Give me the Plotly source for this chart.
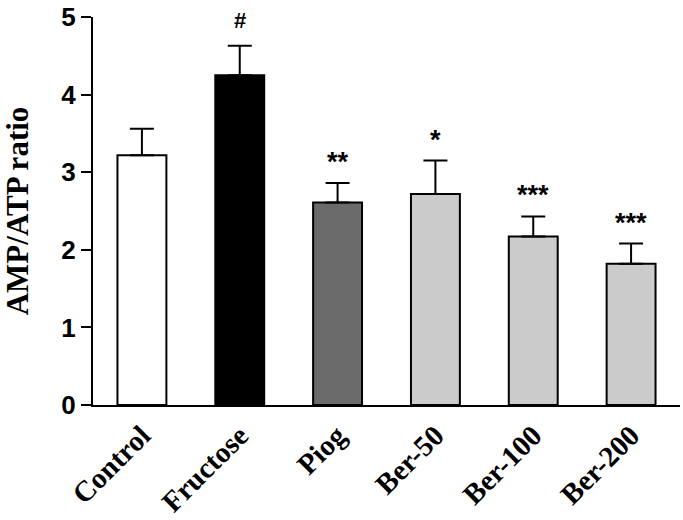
import plotly.graph_objects as go

categories = ["Control", "Fructose", "Piog", "Ber-50", "Ber-100", "Ber-200"]
values = [3.22, 4.25, 2.61, 2.72, 2.17, 1.82]
errors = [0.34, 0.38, 0.25, 0.43, 0.26, 0.26]
colors = ["#ffffff", "#000000", "#6b6b6b", "#cbcbcb", "#cbcbcb", "#cbcbcb"]
marks = ["", "#", "**", "*", "***", "***"]

fig = go.Figure()
fig.add_trace(go.Bar(
    x=categories, y=values,
    marker=dict(color=colors, line=dict(color="#000000", width=2)),
    width=0.5,
    error_y=dict(type="data", array=errors, arrayminus=[0]*len(errors),
                 symmetric=False, color="#000000", thickness=2, width=12),
))

for c, v, e, m in zip(categories, values, errors, marks):
    if m:
        fig.add_annotation(x=c, y=v + e, text=m, showarrow=False,
                           yanchor="bottom", yshift=11 if m == "#" else 4,
                           font=dict(family="Liberation Sans", size=27 if m != "#" else 22,
                                     color="#000", weight="bold"))

fig.update_layout(
    width=683, height=520,
    margin=dict(l=93, r=3, t=17, b=115),
    plot_bgcolor="white", paper_bgcolor="white",
    showlegend=False,
    bargap=0.5,
    xaxis=dict(
        showline=True, linecolor="black", linewidth=2,
        ticks="", tickangle=-45, automargin=False,
        tickfont=dict(family="Liberation Serif", size=29, color="black", weight="bold"),
        range=[-0.5, 5.5],
    ),
    yaxis=dict(
        range=[0, 5], tickvals=[0, 1, 2, 3, 4, 5],
        showline=True, linecolor="black", linewidth=2, automargin=False,
        ticks="outside", ticklen=10, tickwidth=2, tickcolor="black",
        showgrid=False, zeroline=False,
        tickfont=dict(family="Liberation Sans", size=26, color="black", weight="bold"),
        title=dict(text="AMP/ATP ratio", standoff=30,
                   font=dict(family="Liberation Serif", size=31, color="black", weight="bold")),
    ),
)

fig.write_html("out.html", config={"displayModeBar": False},
               post_script="document.body.style.margin='0';")
